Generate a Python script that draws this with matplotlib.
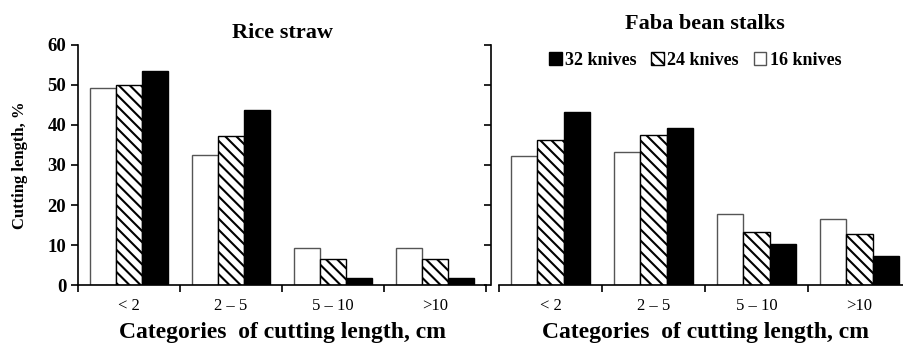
import numpy as np
import matplotlib.pyplot as plt
from matplotlib.patches import Patch

plt.rcParams['font.family'] = ['Liberation Serif', 'DejaVu Serif']
plt.rcParams['hatch.linewidth'] = 1.5

categories = ['< 2', '2 – 5', '5 – 10', '>10']
series = ['16 knives', '24 knives', '32 knives']

rice_16 = [49.2, 32.5, 9.3, 9.3]
rice_24 = [50.1, 37.3, 6.5, 6.5]
rice_32 = [53.5, 43.7, 1.7, 1.7]

faba_16 = [32.2, 33.3, 17.7, 16.6]
faba_24 = [36.3, 37.4, 13.3, 12.8]
faba_32 = [43.2, 39.2, 10.2, 7.2]

styles = [dict(color='white', edgecolor='#555555', hatch=None),
          dict(color='white', edgecolor='black', hatch='\\\\\\'),
          dict(color='black', edgecolor='black', hatch=None)]

fig = plt.figure(figsize=(9.04, 3.44), dpi=100)
ax1 = fig.add_axes([0.0863, 0.1715, 0.4513, 0.6977])
ax2 = fig.add_axes([0.552, 0.1715, 0.4558, 0.6977])

x = np.arange(len(categories))
w = 0.255


def draw(ax, data, title, title_y):
    for i, (vals, st) in enumerate(zip(data, styles)):
        ax.bar(x + (i - 1) * w, vals, w, color=st['color'], edgecolor=st['edgecolor'],
               hatch=st['hatch'], linewidth=1.0)
    ax.set_xlim(-0.5, 3.5)
    ax.set_ylim(0, 60)
    ax.set_yticks(range(0, 61, 10))
    ax.set_xticks(np.arange(-0.5, 4, 1))
    ax.set_xticklabels([])
    ax.set_xticks(x, minor=True)
    ax.set_xticklabels(categories, minor=True, fontsize=12)
    ax.tick_params(axis='x', which='minor', length=0, pad=9)
    ax.tick_params(axis='x', which='major', length=5, width=1.2, direction='out')
    ax.tick_params(axis='y', length=5, width=1.2, direction='out', labelsize=13.5)
    for lab in ax.get_yticklabels():
        lab.set_fontweight('bold')
    ax.spines['top'].set_visible(False)
    ax.spines['right'].set_visible(False)
    ax.spines['left'].set_linewidth(1.2)
    ax.spines['bottom'].set_linewidth(1.2)
    ax.set_xlabel('Categories  of cutting length, cm', fontsize=17, fontweight='bold', labelpad=6)
    ax.text(0.5, title_y, title, transform=ax.transAxes, ha='center', va='bottom',
            fontsize=16, fontweight='bold')


draw(ax1, [rice_16, rice_24, rice_32], 'Rice straw', 1.01)
draw(ax2, [faba_16, faba_24, faba_32], 'Faba bean stalks', 1.045)
ax1.set_ylabel('Cutting length, %', fontsize=12, fontweight='bold', labelpad=14)
ax2.set_yticklabels([])
ax2.spines['left'].set_position(('outward', 6))

handles = [Patch(facecolor=st['color'], edgecolor=st['edgecolor'], hatch=st['hatch'])
           for st in styles][::-1]
ax2.legend(handles, series[::-1], ncol=3, frameon=False, loc='upper center',
           bbox_to_anchor=(0.476, 1.04), handlelength=0.7, handleheight=0.7,
           handletextpad=0.2, columnspacing=0.8,
           prop={'weight': 'bold', 'size': 13})

fig.savefig('out.png', dpi=100)
